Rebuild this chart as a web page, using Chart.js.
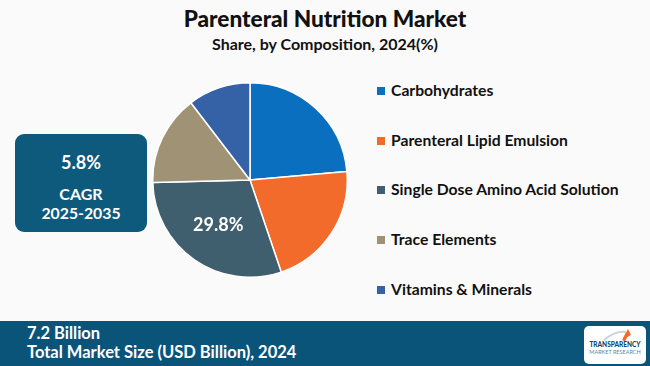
<!DOCTYPE html>
<html><head><meta charset="utf-8">
<script src="https://cdn.jsdelivr.net/npm/chart.js@4.4.1/dist/chart.umd.min.js"></script>
<style>
html,body{margin:0;padding:0;}
body{width:650px;height:366px;background:#fafafa;position:relative;overflow:hidden;font-family:Lato,"Open Sans",sans-serif;}
#title{position:absolute;left:0;width:650px;top:5px;text-align:center;font-weight:900;font-size:22.6px;color:#111;}
#sub{position:absolute;left:0;width:650px;top:34px;text-align:center;font-weight:700;font-size:16px;color:#111;}
#cagr{position:absolute;left:15px;top:134px;width:132px;height:98px;background:#0d5a7c;border-radius:9px;color:#fff;text-align:center;font-weight:700;}
#cagr .v{position:absolute;top:17px;width:100%;font-size:18px;}
#cagr .c{position:absolute;top:50px;width:100%;font-size:16px;}
#cagr .y{position:absolute;top:69px;width:100%;font-size:15.8px;}
#pieWrap{position:absolute;left:152px;top:82px;width:196px;height:196px;}
#legend{position:absolute;left:377px;top:0;}
.li{position:absolute;white-space:nowrap;font-weight:700;font-size:15.7px;color:#111;}
.li span.sw{display:inline-block;width:8px;height:8px;margin-right:6px;vertical-align:1px;}
#band{position:absolute;left:0;top:321px;width:650px;height:45px;background:#0b5479;color:#fff;font-weight:700;}
#band .a{position:absolute;left:27px;top:2px;font-size:16.5px;}
#band .b{position:absolute;left:27px;top:21px;font-size:16.5px;}
#logo{position:absolute;left:584px;top:5px;width:62px;height:38px;background:#fff;border-radius:5px;color:#0b4a6e;text-align:center;}
#logo .t1{position:absolute;top:15px;width:100%;font-size:6.5px;font-weight:900;}
#logo .t2{position:absolute;top:23px;width:100%;font-size:5.5px;font-weight:400;color:#5b8a9e;}
</style></head>
<body>
<div id="title">Parenteral Nutrition Market</div>
<div id="sub">Share, by Composition, 2024(%)</div>
<div id="cagr"><div class="v">5.8%</div><div class="c">CAGR</div><div class="y">2025-2035</div></div>
<div id="pieWrap"><canvas id="pie"></canvas></div>
<div id="legend"></div>
<div id="band"><div class="a">7.2 Billion</div><div class="b">Total Market Size (USD Billion), 2024</div>
<div id="logo"><svg width="62" height="16" style="position:absolute;left:0;top:0"><path d="M20 14 Q32 4 42 6" stroke="#c9d6dd" stroke-width="2" fill="none"/><path d="M38 14 L44 3 L47 9 Z" fill="#f26b2a"/><rect x="40" y="7" width="3" height="8" fill="#f26b2a" transform="rotate(25 41 11)"/></svg><div class="t1">TRANSPARENCY</div><div class="t2">MARKET RESEARCH</div></div></div>
<script>
const categories = ["Carbohydrates","Parenteral Lipid Emulsion","Single Dose Amino Acid Solution","Trace Elements","Vitamins & Minerals"];
const shares = [23.6, 21.2, 29.8, 15.0, 10.4];
const colors = ["#0b6fbf","#f26b2a","#3f5e6e","#a09274","#3561a6"];
const shownLabels = [null, null, "29.8%", null, null];

const leg = document.getElementById('legend');
categories.forEach((c,i)=>{
  const d=document.createElement('div');
  d.className='li';
  d.style.top=(81+i*49.7)+'px';
  d.innerHTML='<span class="sw" style="background:'+colors[i]+'"></span>'+c.replace('&','&amp;');
  leg.appendChild(d);
});

const labelPlugin={
  id:'lbl',
  afterDatasetsDraw(chart){
    const ctx=chart.ctx;
    const meta=chart.getDatasetMeta(0);
    meta.data.forEach((arc,i)=>{
      if(!shownLabels[i])return;
      const mid=(arc.startAngle+arc.endAngle)/2;
      const r=arc.outerRadius*0.57;
      const x=arc.x+Math.cos(mid)*r, y=arc.y+Math.sin(mid)*r;
      ctx.save();
      ctx.fillStyle='#fff';
      ctx.font='700 18px Lato, "Open Sans", sans-serif';
      ctx.textAlign='center';ctx.textBaseline='middle';
      ctx.fillText(shownLabels[i],x,y);
      ctx.restore();
    });
  }
};

new Chart(document.getElementById('pie'),{
  type:'pie',
  data:{labels:categories,datasets:[{data:shares,backgroundColor:colors,borderColor:'#ffffff',borderWidth:1.5}]},
  options:{responsive:true,maintainAspectRatio:false,animation:false,
    layout:{padding:0},
    plugins:{legend:{display:false},tooltip:{enabled:false}}},
  plugins:[labelPlugin]
});
</script>
</body></html>
